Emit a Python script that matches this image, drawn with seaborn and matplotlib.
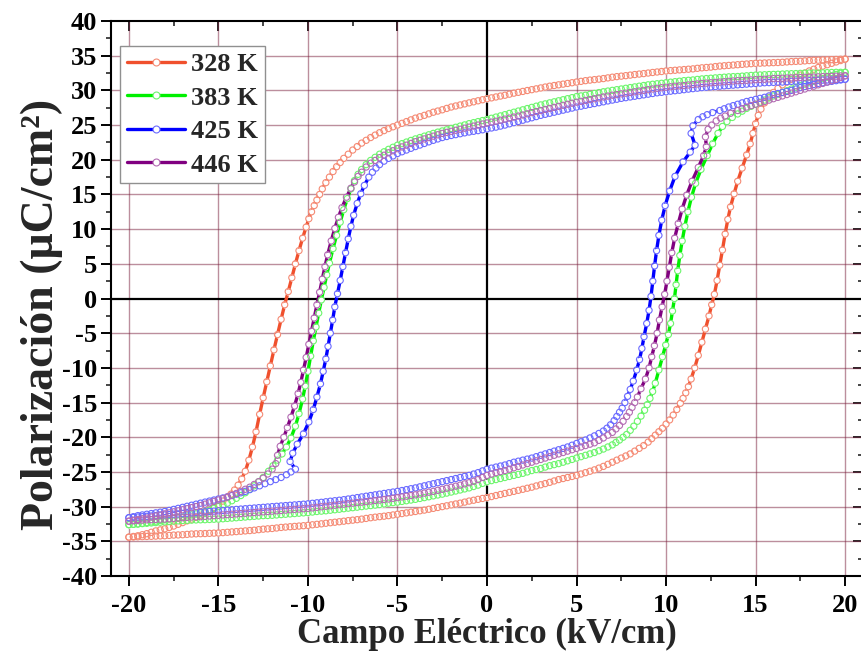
import numpy as np
import pandas as pd
import matplotlib
matplotlib.use("Agg")
import matplotlib.pyplot as plt
from matplotlib.lines import Line2D
from matplotlib.ticker import MultipleLocator
import seaborn as sns

# ---------------- data (E in kV/cm, P in uC/cm^2) ----------------
temps = ["328 K", "383 K", "425 K", "446 K"]
line_colors = ["#F0502D", "#00F000", "#0000FF", "#800080"]
edge_colors = ["#F58A74", "#6CF56C", "#6A6AFF", "#B36BB3"]

up_328 = [(20,34.5),(19.75,34.48),(19.5,34.45),(19.25,34.43),(19,34.4),(18.75,34.38),(18.5,34.35),(18.25,34.33),(18,34.3),(17.75,34.25),(17.5,34.2),(17.25,34.18),(17,34.15),(16.75,34.1),(16.5,34.05),(16.25,34.02),(16,34.0),(15.75,33.97),(15.5,33.95),(15.25,33.92),(15,33.9),(14.75,33.85),(14.5,33.8),(14.25,33.75),(14,33.7),(13.75,33.65),(13.5,33.6),(13.25,33.55),(13,33.5),(12.75,33.43),(12.5,33.35),(12.25,33.3),(12,33.25),(11.75,33.18),(11.5,33.1),(11.25,33.05),(11,33.0),(10.75,32.95),(10.5,32.9),(10.25,32.85),(10,32.8),(9.75,32.72),(9.5,32.65),(9.25,32.58),(9,32.5),(8.75,32.42),(8.5,32.35),(8.25,32.28),(8,32.2),(7.75,32.12),(7.5,32.05),(7.25,31.98),(7,31.9),(6.75,31.8),(6.5,31.7),(6.25,31.62),(6,31.55),(5.75,31.48),(5.5,31.4),(5.25,31.3),(5,31.2),(4.75,31.1),(4.5,31.0),(4.25,30.9),(4,30.8),(3.75,30.7),(3.5,30.6),(3.25,30.48),(3,30.35),(2.75,30.22),(2.5,30.1),(2.25,29.98),(2,29.85),(1.75,29.72),(1.5,29.6),(1.25,29.45),(1,29.3),(0.75,29.18),(0.5,29.05),(0.25,28.92),(0,28.8),(-0.25,28.65),(-0.5,28.5),(-0.75,28.35),(-1,28.2),(-1.25,28.05),(-1.5,27.9),(-1.75,27.75),(-2,27.6),(-2.25,27.4),(-2.5,27.2),(-2.75,27.02),(-3,26.85),(-3.25,26.62),(-3.5,26.4),(-3.75,26.2),(-4,26.0),(-4.25,25.75),(-4.5,25.5),(-4.75,25.25),(-5,25.0),(-5.25,24.75),(-5.5,24.5),(-5.75,24.2),(-6,23.9),(-6.25,23.55),(-6.5,23.2),(-6.75,22.8),(-7,22.4),(-7.25,21.9),(-7.5,21.4),(-7.75,20.8),(-8,20.2),(-8.2,19.6),(-8.4,19.0),(-8.6,18.3),(-8.8,17.5),(-9.0,16.7),(-9.2,15.8),(-9.35,15.0),(-9.5,14.2),(-9.65,13.4),(-9.8,12.5),(-9.95,11.5),(-10.1,10.3),(-10.3,8.7),(-10.5,6.9),(-10.7,5.0),(-10.9,3.0),(-11.1,1.0),(-11.3,-0.9),(-11.5,-3.0),(-11.7,-5.2),(-11.9,-7.4),(-12.1,-9.7),(-12.3,-12.0),(-12.5,-14.3),(-12.7,-16.7),(-12.9,-19.2),(-13.1,-21.4),(-13.3,-23.3),(-13.5,-24.9),(-13.7,-26.0),(-13.9,-26.9),(-14.1,-27.6),(-14.3,-28.2),(-14.5,-28.7),(-14.75,-29.2),(-15,-29.7),(-15.25,-30.1),(-15.5,-30.5),(-15.75,-30.9),(-16,-31.25),(-16.25,-31.55),(-16.5,-31.8),(-16.75,-32.05),(-17,-32.3),(-17.25,-32.55),(-17.5,-32.8),(-17.75,-33.0),(-18,-33.2),(-18.25,-33.35),(-18.5,-33.5),(-18.75,-33.7),(-19,-33.9),(-19.25,-34.05),(-19.5,-34.2),(-19.75,-34.3),(-20,-34.4)]
dn_328 = [(-20,-34.4),(-19.75,-34.38),(-19.5,-34.35),(-19.25,-34.33),(-19,-34.3),(-18.75,-34.28),(-18.5,-34.25),(-18.25,-34.22),(-18,-34.2),(-17.75,-34.15),(-17.5,-34.1),(-17.25,-34.08),(-17,-34.05),(-16.75,-34.0),(-16.5,-33.95),(-16.25,-33.92),(-16,-33.9),(-15.75,-33.88),(-15.5,-33.85),(-15.25,-33.82),(-15,-33.8),(-14.75,-33.75),(-14.5,-33.7),(-14.25,-33.65),(-14,-33.6),(-13.75,-33.55),(-13.5,-33.5),(-13.25,-33.45),(-13,-33.4),(-12.75,-33.32),(-12.5,-33.25),(-12.25,-33.2),(-12,-33.15),(-11.75,-33.08),(-11.5,-33.0),(-11.25,-32.95),(-11,-32.9),(-10.75,-32.85),(-10.5,-32.8),(-10.25,-32.75),(-10,-32.7),(-9.75,-32.62),(-9.5,-32.55),(-9.25,-32.48),(-9,-32.4),(-8.75,-32.32),(-8.5,-32.25),(-8.25,-32.18),(-8,-32.1),(-7.75,-32.02),(-7.5,-31.95),(-7.25,-31.88),(-7,-31.8),(-6.75,-31.7),(-6.5,-31.6),(-6.25,-31.52),(-6,-31.45),(-5.75,-31.38),(-5.5,-31.3),(-5.25,-31.2),(-5,-31.1),(-4.75,-31.0),(-4.5,-30.9),(-4.25,-30.8),(-4,-30.7),(-3.75,-30.6),(-3.5,-30.5),(-3.25,-30.38),(-3,-30.25),(-2.75,-30.12),(-2.5,-30.0),(-2.25,-29.88),(-2,-29.75),(-1.75,-29.62),(-1.5,-29.5),(-1.25,-29.35),(-1,-29.2),(-0.75,-29.08),(-0.5,-28.95),(-0.25,-28.82),(0,-28.7),(0.25,-28.55),(0.5,-28.4),(0.75,-28.25),(1,-28.1),(1.25,-27.95),(1.5,-27.8),(1.75,-27.65),(2,-27.5),(2.25,-27.35),(2.5,-27.2),(2.75,-27.02),(3,-26.85),(3.25,-26.68),(3.5,-26.5),(3.75,-26.3),(4,-26.1),(4.25,-25.95),(4.5,-25.8),(4.75,-25.65),(5,-25.5),(5.25,-25.3),(5.5,-25.1),(5.75,-24.9),(6,-24.7),(6.25,-24.45),(6.5,-24.2),(6.75,-23.9),(7,-23.6),(7.25,-23.3),(7.5,-23.0),(7.75,-22.7),(8,-22.4),(8.25,-22.0),(8.5,-21.6),(8.75,-21.2),(9,-20.7),(9.2,-20.2),(9.4,-19.7),(9.6,-19.2),(9.8,-18.7),(10.0,-18.1),(10.2,-17.5),(10.4,-16.8),(10.6,-16.0),(10.8,-15.1),(10.95,-14.4),(11.1,-13.6),(11.25,-12.7),(11.4,-11.6),(11.6,-10.0),(11.8,-8.2),(12.0,-6.3),(12.2,-4.4),(12.4,-2.5),(12.55,-0.9),(12.7,0.6),(12.85,2.6),(13.0,4.8),(13.15,7.0),(13.3,9.3),(13.45,11.4),(13.6,13.2),(13.8,15.1),(14.0,16.9),(14.25,18.8),(14.5,20.7),(14.7,22.3),(14.85,23.8),(15.0,25.2),(15.15,26.4),(15.3,27.3),(15.5,28.2),(15.75,29.0),(16.0,29.7),(16.25,30.3),(16.5,30.8),(16.75,31.2),(17,31.6),(17.25,31.9),(17.5,32.2),(17.75,32.5),(18,32.8),(18.25,33.05),(18.5,33.3),(18.75,33.5),(19,33.7),(19.25,33.9),(19.5,34.1),(19.75,34.3),(20,34.5)]

up_383 = [(20,32.6),(19.75,32.6),(19.5,32.6),(19.25,32.58),(19,32.55),(18.75,32.52),(18.5,32.5),(18.25,32.5),(18,32.5),(17.75,32.48),(17.5,32.45),(17.25,32.42),(17,32.4),(16.75,32.38),(16.5,32.35),(16.25,32.32),(16,32.3),(15.75,32.28),(15.5,32.25),(15.25,32.22),(15,32.2),(14.75,32.15),(14.5,32.1),(14.25,32.05),(14,32.0),(13.75,31.98),(13.5,31.95),(13.25,31.9),(13,31.85),(12.75,31.8),(12.5,31.75),(12.25,31.7),(12,31.65),(11.75,31.58),(11.5,31.5),(11.25,31.45),(11,31.4),(10.75,31.32),(10.5,31.25),(10.25,31.18),(10,31.1),(9.75,31.02),(9.5,30.95),(9.25,30.88),(9,30.8),(8.75,30.7),(8.5,30.6),(8.25,30.5),(8,30.4),(7.75,30.3),(7.5,30.2),(7.25,30.1),(7,30.0),(6.75,29.9),(6.5,29.8),(6.25,29.68),(6,29.55),(5.75,29.42),(5.5,29.3),(5.25,29.2),(5,29.1),(4.75,28.95),(4.5,28.8),(4.25,28.65),(4,28.5),(3.75,28.35),(3.5,28.2),(3.25,28.05),(3,27.9),(2.75,27.72),(2.5,27.55),(2.25,27.38),(2,27.2),(1.75,27.02),(1.5,26.85),(1.25,26.68),(1,26.5),(0.75,26.32),(0.5,26.15),(0.25,25.98),(0,25.8),(-0.25,25.65),(-0.5,25.5),(-0.75,25.35),(-1,25.2),(-1.25,25.02),(-1.5,24.85),(-1.75,24.68),(-2,24.5),(-2.25,24.32),(-2.5,24.15),(-2.75,23.98),(-3,23.8),(-3.25,23.6),(-3.5,23.4),(-3.75,23.2),(-4,23.0),(-4.25,22.78),(-4.5,22.55),(-4.75,22.32),(-5,22.1),(-5.25,21.8),(-5.5,21.5),(-5.75,21.15),(-6,20.8),(-6.25,20.35),(-6.5,19.9),(-6.75,19.3),(-7.0,18.6),(-7.2,17.9),(-7.4,17.0),(-7.6,15.8),(-7.8,14.4),(-8.0,12.8),(-8.2,11.0),(-8.4,9.1),(-8.6,7.2),(-8.8,5.1),(-8.95,3.4),(-9.1,1.6),(-9.25,-0.2),(-9.4,-2.1),(-9.55,-4.1),(-9.7,-6.1),(-9.85,-8.3),(-10.0,-10.5),(-10.15,-12.6),(-10.3,-14.5),(-10.5,-16.6),(-10.7,-18.4),(-10.95,-20.1),(-11.2,-21.4),(-11.45,-22.4),(-11.7,-23.3),(-11.95,-24.1),(-12.2,-24.9),(-12.5,-25.8),(-12.75,-26.4),(-13,-27.0),(-13.25,-27.5),(-13.5,-28.0),(-13.75,-28.4),(-14,-28.8),(-14.25,-29.15),(-14.5,-29.5),(-14.75,-29.75),(-15,-30.0),(-15.25,-30.25),(-15.5,-30.5),(-15.75,-30.7),(-16,-30.9),(-16.25,-31.05),(-16.5,-31.2),(-16.75,-31.35),(-17,-31.5),(-17.25,-31.6),(-17.5,-31.7),(-17.75,-31.8),(-18,-31.9),(-18.25,-32.0),(-18.5,-32.1),(-18.75,-32.2),(-19,-32.3),(-19.25,-32.4),(-19.5,-32.5),(-19.75,-32.55),(-20,-32.6)]
dn_383 = [(-20,-32.6),(-19.75,-32.55),(-19.5,-32.5),(-19.25,-32.45),(-19,-32.4),(-18.75,-32.35),(-18.5,-32.3),(-18.25,-32.25),(-18,-32.2),(-17.75,-32.15),(-17.5,-32.1),(-17.25,-32.05),(-17,-32.0),(-16.75,-31.98),(-16.5,-31.95),(-16.25,-31.92),(-16,-31.9),(-15.75,-31.88),(-15.5,-31.85),(-15.25,-31.82),(-15,-31.8),(-14.75,-31.75),(-14.5,-31.7),(-14.25,-31.65),(-14,-31.6),(-13.75,-31.55),(-13.5,-31.5),(-13.25,-31.45),(-13,-31.4),(-12.75,-31.35),(-12.5,-31.3),(-12.25,-31.28),(-12,-31.25),(-11.75,-31.2),(-11.5,-31.15),(-11.25,-31.1),(-11,-31.05),(-10.75,-31.0),(-10.5,-30.95),(-10.25,-30.9),(-10,-30.85),(-9.75,-30.78),(-9.5,-30.7),(-9.25,-30.65),(-9,-30.6),(-8.75,-30.52),(-8.5,-30.45),(-8.25,-30.38),(-8,-30.3),(-7.75,-30.22),(-7.5,-30.15),(-7.25,-30.08),(-7,-30.0),(-6.75,-29.92),(-6.5,-29.85),(-6.25,-29.78),(-6,-29.7),(-5.75,-29.6),(-5.5,-29.5),(-5.25,-29.42),(-5,-29.35),(-4.75,-29.25),(-4.5,-29.15),(-4.25,-29.05),(-4,-28.95),(-3.75,-28.82),(-3.5,-28.7),(-3.25,-28.58),(-3,-28.45),(-2.75,-28.32),(-2.5,-28.2),(-2.25,-28.05),(-2,-27.9),(-1.75,-27.75),(-1.5,-27.6),(-1.25,-27.45),(-1,-27.3),(-0.75,-27.1),(-0.5,-26.9),(-0.25,-26.65),(0,-26.4),(0.25,-26.25),(0.5,-26.1),(0.75,-25.95),(1,-25.8),(1.25,-25.65),(1.5,-25.5),(1.75,-25.35),(2,-25.2),(2.25,-25.0),(2.5,-24.8),(2.75,-24.65),(3,-24.5),(3.25,-24.3),(3.5,-24.1),(3.75,-23.95),(4,-23.8),(4.25,-23.6),(4.5,-23.4),(4.75,-23.2),(5,-23.0),(5.25,-22.8),(5.5,-22.6),(5.75,-22.4),(6,-22.2),(6.25,-21.95),(6.5,-21.7),(6.75,-21.4),(7,-21.1),(7.2,-20.75),(7.4,-20.4),(7.6,-20.0),(7.8,-19.6),(8.0,-19.0),(8.2,-18.4),(8.4,-17.7),(8.6,-16.95),(8.8,-16.1),(8.95,-15.3),(9.1,-14.4),(9.25,-13.4),(9.4,-12.2),(9.6,-10.3),(9.8,-8.4),(9.98,-6.7),(10.13,-5.2),(10.25,-3.6),(10.36,-1.8),(10.47,0.0),(10.56,2.0),(10.65,4.0),(10.77,6.2),(10.9,8.3),(11.05,10.4),(11.22,12.5),(11.42,14.6),(11.65,16.6),(11.95,18.6),(12.3,20.6),(12.6,22.3),(12.9,23.8),(13.15,24.8),(13.4,25.5),(13.7,26.1),(14.0,26.6),(14.25,27.0),(14.5,27.4),(14.75,27.7),(15,28.0),(15.25,28.3),(15.5,28.6),(15.75,28.9),(16,29.2),(16.25,29.45),(16.5,29.7),(16.75,29.95),(17,30.2),(17.25,30.45),(17.5,30.7),(17.75,30.9),(18,31.1),(18.25,31.3),(18.5,31.5),(18.75,31.7),(19,31.9),(19.25,32.1),(19.5,32.3),(19.75,32.45),(20,32.6)]

up_425 = [(20,31.6),(19.75,31.58),(19.5,31.55),(19.25,31.52),(19,31.5),(18.75,31.48),(18.5,31.45),(18.25,31.42),(18,31.4),(17.75,31.38),(17.5,31.35),(17.25,31.32),(17,31.3),(16.75,31.25),(16.5,31.2),(16.25,31.18),(16,31.15),(15.75,31.12),(15.5,31.1),(15.25,31.05),(15,31.0),(14.75,30.95),(14.5,30.9),(14.25,30.85),(14,30.8),(13.75,30.75),(13.5,30.7),(13.25,30.65),(13,30.6),(12.75,30.55),(12.5,30.5),(12.25,30.45),(12,30.4),(11.75,30.32),(11.5,30.25),(11.25,30.18),(11,30.1),(10.75,30.02),(10.5,29.95),(10.25,29.88),(10,29.8),(9.75,29.72),(9.5,29.65),(9.25,29.55),(9,29.45),(8.75,29.35),(8.5,29.25),(8.25,29.15),(8,29.05),(7.75,28.95),(7.5,28.85),(7.25,28.72),(7,28.6),(6.75,28.48),(6.5,28.35),(6.25,28.22),(6,28.1),(5.75,27.98),(5.5,27.85),(5.25,27.72),(5,27.6),(4.75,27.45),(4.5,27.3),(4.25,27.15),(4,27.0),(3.75,26.85),(3.5,26.7),(3.25,26.55),(3,26.4),(2.75,26.22),(2.5,26.05),(2.25,25.88),(2,25.7),(1.75,25.52),(1.5,25.35),(1.25,25.18),(1,25.0),(0.75,24.85),(0.5,24.7),(0.25,24.58),(0,24.45),(-0.25,24.32),(-0.5,24.2),(-0.75,24.1),(-1,24.0),(-1.25,23.88),(-1.5,23.75),(-1.75,23.62),(-2,23.5),(-2.25,23.35),(-2.5,23.2),(-2.75,23.0),(-3,22.8),(-3.25,22.58),(-3.5,22.35),(-3.75,22.12),(-4,21.9),(-4.25,21.65),(-4.5,21.4),(-4.75,21.15),(-5,20.9),(-5.25,20.55),(-5.5,20.2),(-5.75,19.8),(-6,19.3),(-6.2,18.8),(-6.4,18.2),(-6.6,17.5),(-6.85,16.3),(-7.05,15.1),(-7.25,13.7),(-7.45,12.0),(-7.6,10.4),(-7.75,8.6),(-7.9,6.6),(-8.05,4.6),(-8.2,2.6),(-8.35,0.7),(-8.5,-1.2),(-8.62,-3.1),(-8.75,-5.0),(-8.88,-6.9),(-9.0,-8.7),(-9.15,-10.5),(-9.3,-12.3),(-9.5,-14.2),(-9.7,-16.0),(-9.95,-17.8),(-10.25,-19.5),(-10.6,-21.0),(-10.85,-22.3),(-11.0,-23.5),(-10.7,-24.6),(-10.95,-25.0),(-11.2,-25.4),(-11.5,-25.8),(-11.8,-26.1),(-12.1,-26.4),(-12.4,-26.7),(-12.7,-27.0),(-13,-27.3),(-13.25,-27.55),(-13.5,-27.8),(-13.75,-28.0),(-14,-28.2),(-14.25,-28.4),(-14.5,-28.6),(-14.75,-28.75),(-15,-28.9),(-15.25,-29.05),(-15.5,-29.2),(-15.75,-29.35),(-16,-29.5),(-16.25,-29.65),(-16.5,-29.8),(-16.75,-29.95),(-17,-30.1),(-17.25,-30.25),(-17.5,-30.4),(-17.75,-30.55),(-18,-30.7),(-18.25,-30.8),(-18.5,-30.9),(-18.75,-31.0),(-19,-31.1),(-19.25,-31.2),(-19.5,-31.3),(-19.75,-31.45),(-20,-31.6)]
dn_425 = [(-20,-31.6),(-19.75,-31.55),(-19.5,-31.5),(-19.25,-31.45),(-19,-31.4),(-18.75,-31.35),(-18.5,-31.3),(-18.25,-31.25),(-18,-31.2),(-17.75,-31.15),(-17.5,-31.1),(-17.25,-31.05),(-17,-31.0),(-16.75,-30.95),(-16.5,-30.9),(-16.25,-30.85),(-16,-30.8),(-15.75,-30.75),(-15.5,-30.7),(-15.25,-30.65),(-15,-30.6),(-14.75,-30.55),(-14.5,-30.5),(-14.25,-30.45),(-14,-30.4),(-13.75,-30.35),(-13.5,-30.3),(-13.25,-30.25),(-13,-30.2),(-12.75,-30.15),(-12.5,-30.1),(-12.25,-30.05),(-12,-30.0),(-11.75,-29.95),(-11.5,-29.9),(-11.25,-29.85),(-11,-29.8),(-10.75,-29.75),(-10.5,-29.7),(-10.25,-29.65),(-10,-29.6),(-9.75,-29.52),(-9.5,-29.45),(-9.25,-29.38),(-9,-29.3),(-8.75,-29.22),(-8.5,-29.15),(-8.25,-29.08),(-8,-29.0),(-7.75,-28.9),(-7.5,-28.8),(-7.25,-28.7),(-7,-28.6),(-6.75,-28.5),(-6.5,-28.4),(-6.25,-28.3),(-6,-28.2),(-5.75,-28.1),(-5.5,-28.0),(-5.25,-27.9),(-5,-27.8),(-4.75,-27.68),(-4.5,-27.55),(-4.25,-27.42),(-4,-27.3),(-3.75,-27.15),(-3.5,-27.0),(-3.25,-26.85),(-3,-26.7),(-2.75,-26.55),(-2.5,-26.4),(-2.25,-26.25),(-2,-26.1),(-1.75,-25.95),(-1.5,-25.8),(-1.25,-25.65),(-1,-25.5),(-0.75,-25.3),(-0.5,-25.1),(-0.25,-24.85),(0,-24.6),(0.25,-24.45),(0.5,-24.3),(0.75,-24.15),(1,-24.0),(1.25,-23.8),(1.5,-23.6),(1.75,-23.45),(2,-23.3),(2.25,-23.15),(2.5,-23.0),(2.75,-22.8),(3,-22.6),(3.25,-22.4),(3.5,-22.2),(3.75,-22.0),(4,-21.8),(4.25,-21.6),(4.5,-21.4),(4.75,-21.15),(5,-20.9),(5.25,-20.65),(5.5,-20.4),(5.75,-20.1),(6,-19.8),(6.25,-19.45),(6.5,-19.1),(6.7,-18.7),(6.9,-18.2),(7.1,-17.6),(7.25,-17.0),(7.4,-16.4),(7.55,-15.8),(7.7,-15.0),(7.85,-14.1),(8.0,-13.1),(8.17,-11.9),(8.36,-10.3),(8.52,-8.8),(8.65,-7.2),(8.77,-5.5),(8.92,-3.6),(9.05,-1.7),(9.16,0.3),(9.26,2.5),(9.36,4.7),(9.47,6.9),(9.6,9.1),(9.76,11.3),(9.95,13.4),(10.2,15.5),(10.5,17.6),(10.95,19.7),(11.35,21.1),(11.62,22.1),(11.4,23.8),(11.5,24.9),(11.8,25.8),(12.05,26.2),(12.3,26.5),(12.6,26.8),(13,27.1),(13.25,27.35),(13.5,27.6),(13.75,27.8),(14,28.0),(14.25,28.2),(14.5,28.4),(14.75,28.55),(15,28.7),(15.25,28.85),(15.5,29.0),(15.75,29.2),(16,29.4),(16.25,29.55),(16.5,29.7),(16.75,29.85),(17,30.0),(17.25,30.2),(17.5,30.4),(17.75,30.55),(18,30.7),(18.25,30.85),(18.5,31.0),(18.75,31.1),(19,31.2),(19.25,31.3),(19.5,31.4),(19.75,31.5),(20,31.6)]

up_446 = [(20,32.1),(19.75,32.08),(19.5,32.05),(19.25,32.02),(19,32.0),(18.75,31.98),(18.5,31.95),(18.25,31.92),(18,31.9),(17.75,31.88),(17.5,31.85),(17.25,31.82),(17,31.8),(16.75,31.78),(16.5,31.75),(16.25,31.72),(16,31.7),(15.75,31.65),(15.5,31.6),(15.25,31.58),(15,31.55),(14.75,31.5),(14.5,31.45),(14.25,31.42),(14,31.4),(13.75,31.35),(13.5,31.3),(13.25,31.25),(13,31.2),(12.75,31.15),(12.5,31.1),(12.25,31.05),(12,31.0),(11.75,30.92),(11.5,30.85),(11.25,30.78),(11,30.7),(10.75,30.65),(10.5,30.6),(10.25,30.52),(10,30.45),(9.75,30.38),(9.5,30.3),(9.25,30.2),(9,30.1),(8.75,30.0),(8.5,29.9),(8.25,29.8),(8,29.7),(7.75,29.6),(7.5,29.5),(7.25,29.4),(7,29.3),(6.75,29.18),(6.5,29.05),(6.25,28.92),(6,28.8),(5.75,28.68),(5.5,28.55),(5.25,28.42),(5,28.3),(4.75,28.15),(4.5,28.0),(4.25,27.85),(4,27.7),(3.75,27.55),(3.5,27.4),(3.25,27.25),(3,27.1),(2.75,26.95),(2.5,26.8),(2.25,26.62),(2,26.45),(1.75,26.3),(1.5,26.15),(1.25,26.0),(1,25.85),(0.75,25.7),(0.5,25.55),(0.25,25.42),(0,25.3),(-0.25,25.15),(-0.5,25.0),(-0.75,24.85),(-1,24.7),(-1.25,24.55),(-1.5,24.4),(-1.75,24.25),(-2,24.1),(-2.25,23.95),(-2.5,23.8),(-2.75,23.6),(-3,23.4),(-3.25,23.2),(-3.5,23.0),(-3.75,22.8),(-4,22.6),(-4.25,22.35),(-4.5,22.1),(-4.75,21.85),(-5,21.6),(-5.25,21.3),(-5.5,21.0),(-5.75,20.65),(-6,20.3),(-6.25,19.9),(-6.5,19.5),(-6.75,18.95),(-7.0,18.2),(-7.2,17.6),(-7.4,16.8),(-7.6,15.9),(-7.85,14.6),(-8.1,13.1),(-8.3,11.7),(-8.5,10.1),(-8.7,8.3),(-8.9,6.3),(-9.05,4.6),(-9.2,2.8),(-9.35,0.9),(-9.5,-0.9),(-9.65,-2.8),(-9.8,-4.7),(-9.95,-6.6),(-10.1,-8.5),(-10.25,-10.3),(-10.4,-12.1),(-10.55,-13.7),(-10.75,-15.5),(-10.95,-17.1),(-11.15,-18.6),(-11.35,-20.0),(-11.55,-21.3),(-11.7,-22.6),(-11.8,-23.8),(-12.0,-24.6),(-12.25,-25.3),(-12.5,-25.9),(-12.75,-26.4),(-13,-26.8),(-13.25,-27.2),(-13.5,-27.5),(-13.75,-27.8),(-14,-28.1),(-14.25,-28.35),(-14.5,-28.6),(-14.75,-28.85),(-15,-29.05),(-15.25,-29.25),(-15.5,-29.45),(-15.75,-29.65),(-16,-29.85),(-16.25,-30.0),(-16.5,-30.15),(-16.75,-30.3),(-17,-30.45),(-17.25,-30.6),(-17.5,-30.75),(-17.75,-30.9),(-18,-31.05),(-18.25,-31.2),(-18.5,-31.35),(-18.75,-31.5),(-19,-31.65),(-19.25,-31.75),(-19.5,-31.85),(-19.75,-31.95),(-20,-32.1)]
dn_446 = [(-20,-32.1),(-19.75,-32.05),(-19.5,-32.0),(-19.25,-31.95),(-19,-31.9),(-18.75,-31.88),(-18.5,-31.85),(-18.25,-31.82),(-18,-31.8),(-17.75,-31.75),(-17.5,-31.7),(-17.25,-31.65),(-17,-31.6),(-16.75,-31.55),(-16.5,-31.5),(-16.25,-31.48),(-16,-31.45),(-15.75,-31.4),(-15.5,-31.35),(-15.25,-31.3),(-15,-31.25),(-14.75,-31.2),(-14.5,-31.15),(-14.25,-31.1),(-14,-31.05),(-13.75,-31.0),(-13.5,-30.95),(-13.25,-30.9),(-13,-30.85),(-12.75,-30.8),(-12.5,-30.75),(-12.25,-30.7),(-12,-30.65),(-11.75,-30.6),(-11.5,-30.55),(-11.25,-30.5),(-11,-30.45),(-10.75,-30.4),(-10.5,-30.35),(-10.25,-30.3),(-10,-30.25),(-9.75,-30.18),(-9.5,-30.1),(-9.25,-30.02),(-9,-29.95),(-8.75,-29.88),(-8.5,-29.8),(-8.25,-29.72),(-8,-29.65),(-7.75,-29.58),(-7.5,-29.5),(-7.25,-29.42),(-7,-29.35),(-6.75,-29.28),(-6.5,-29.2),(-6.25,-29.12),(-6,-29.05),(-5.75,-28.98),(-5.5,-28.9),(-5.25,-28.8),(-5,-28.7),(-4.75,-28.6),(-4.5,-28.5),(-4.25,-28.4),(-4,-28.3),(-3.75,-28.18),(-3.5,-28.05),(-3.25,-27.92),(-3,-27.8),(-2.75,-27.65),(-2.5,-27.5),(-2.25,-27.35),(-2,-27.2),(-1.75,-27.05),(-1.5,-26.9),(-1.25,-26.72),(-1,-26.55),(-0.75,-26.35),(-0.5,-26.1),(-0.25,-25.8),(0,-25.5),(0.25,-25.3),(0.5,-25.1),(0.75,-24.95),(1,-24.8),(1.25,-24.6),(1.5,-24.4),(1.75,-24.2),(2,-24.0),(2.25,-23.8),(2.5,-23.6),(2.75,-23.4),(3,-23.2),(3.25,-23.0),(3.5,-22.8),(3.75,-22.6),(4,-22.4),(4.25,-22.2),(4.5,-22.0),(4.75,-21.8),(5,-21.6),(5.25,-21.4),(5.5,-21.2),(5.75,-21.0),(6,-20.8),(6.25,-20.45),(6.5,-20.1),(6.75,-19.7),(7,-19.3),(7.2,-18.8),(7.4,-18.3),(7.6,-17.7),(7.8,-17.0),(7.95,-16.4),(8.1,-15.7),(8.25,-15.0),(8.4,-14.2),(8.6,-13.0),(8.85,-11.6),(9.05,-10.0),(9.2,-8.4),(9.35,-6.8),(9.5,-5.0),(9.63,-3.1),(9.78,-1.2),(9.92,0.6),(10.05,2.5),(10.18,4.5),(10.32,6.6),(10.48,8.7),(10.68,10.8),(10.9,12.9),(11.15,14.9),(11.45,16.9),(11.8,18.9),(12.1,20.6),(12.25,21.9),(12.2,23.3),(12.35,24.4),(12.55,25.0),(12.8,25.6),(13.05,26.0),(13.3,26.3),(13.6,26.7),(14,27.1),(14.25,27.35),(14.5,27.6),(14.75,27.8),(15,28.0),(15.25,28.2),(15.5,28.4),(15.75,28.6),(16,28.8),(16.25,29.0),(16.5,29.2),(16.75,29.4),(17,29.6),(17.25,29.8),(17.5,30.0),(17.75,30.2),(18,30.4),(18.25,30.6),(18.5,30.8),(18.75,31.0),(19,31.2),(19.25,31.4),(19.5,31.6),(19.75,31.85),(20,32.1)]

x_ticks = [-20, -15, -10, -5, 0, 5, 10, 15, 20]
y_ticks = [-40, -35, -30, -25, -20, -15, -10, -5, 0, 5, 10, 15, 20, 25, 30, 35, 40]
x_label = "Campo Eléctrico (kV/cm)"
y_label = "Polarización (μC/cm²)"

branches = {"328 K": (up_328, dn_328), "383 K": (up_383, dn_383),
            "425 K": (up_425, dn_425), "446 K": (up_446, dn_446)}

rows = []
for t in temps:
    for bname, pts in zip(("up", "down"), branches[t]):
        for i, (e, p) in enumerate(pts):
            rows.append({"T": t, "branch": bname, "order": i, "E": e, "P": p})
df = pd.DataFrame(rows)

# ---------------- style ----------------
sns.set_theme(style="white")
plt.rcParams["font.family"] = ["Liberation Serif", "DejaVu Serif"]
plt.rcParams["font.weight"] = "bold"
plt.rcParams["axes.unicode_minus"] = False

fig = plt.figure(figsize=(8.61, 6.57), dpi=100)
ax = fig.add_axes([111/861, 1-576/657, (863-111)/861, (576-21)/657])
ax.set_xlim(-21, 21)
ax.set_ylim(-40, 40)

# grid
for xv in x_ticks:
    if xv != 0:
        ax.axvline(xv, color="#7a1f3d", alpha=0.5, lw=1.0, zorder=0.5)
for yv in y_ticks:
    if yv not in (0, -40, 40):
        ax.axhline(yv, color="#7a1f3d", alpha=0.5, lw=1.0, zorder=0.5)
ax.axhline(0, color="black", lw=1.6, zorder=0.8)
ax.axvline(0, color="black", lw=1.6, zorder=0.8)

MS = 20  # marker area (pt^2)

# connecting lines
for t, lc in zip(temps, line_colors):
    for b in ("up", "down"):
        sub = df[(df["T"] == t) & (df["branch"] == b)].sort_values("order")
        sns.lineplot(data=sub, x="E", y="P", sort=False, estimator=None,
                     color=lc, lw=2.4, ax=ax, zorder=2, legend=False)

# symbol knock-outs (gap to symbol)
for t in temps:
    sub = df[df["T"] == t]
    sns.scatterplot(data=sub, x="E", y="P", color="white", s=MS, linewidth=0,
                    ax=ax, zorder=3, legend=False)

# hollow symbols
for t, ec in zip(temps, edge_colors):
    sub = df[df["T"] == t]
    sns.scatterplot(data=sub, x="E", y="P", facecolors="none", edgecolor=ec,
                    s=MS, linewidth=0.8, ax=ax, zorder=4, legend=False)

# ticks
ax.set_xticks(x_ticks)
ax.set_yticks(y_ticks)
ax.xaxis.set_minor_locator(MultipleLocator(2.5))
ax.yaxis.set_minor_locator(MultipleLocator(2.5))
ax.tick_params(which="major", direction="out", length=7, width=1.4,
               bottom=True, left=True, top=False, right=False,
               labelsize=19, colors="black")
ax.tick_params(axis="x", which="major", pad=6)
ax.tick_params(axis="y", which="major", pad=3)
ax.tick_params(which="minor", direction="out", length=3.5, width=1.2,
               bottom=True, left=True, top=False, right=False)
for lab in ax.get_xticklabels() + ax.get_yticklabels():
    lab.set_fontweight("bold")

sx = ax.secondary_xaxis("top")
sx.set_xticks(x_ticks)
sx.xaxis.set_minor_locator(MultipleLocator(2.5))
sx.tick_params(which="major", direction="in", length=7, width=1.4, labeltop=False)
sx.tick_params(which="minor", direction="in", length=3.5, width=1.2)
sy = ax.secondary_yaxis("right")
sy.set_yticks(y_ticks)
sy.yaxis.set_minor_locator(MultipleLocator(2.5))
sy.tick_params(which="major", direction="in", length=7, width=1.4, labelright=False)
sy.tick_params(which="minor", direction="in", length=3.5, width=1.2)

for sp in ax.spines.values():
    sp.set_color("black")
    sp.set_linewidth(1.5)

ax.set_xlabel(x_label, fontsize=25, fontweight="bold")
ax.xaxis.set_label_coords(0.5, -0.075)
ax.set_ylabel(y_label, fontsize=33, fontweight="bold")
ax.yaxis.set_label_coords(-0.064, 0.472)

handles = [Line2D([0], [0], color=lc, lw=2.4, marker="o", markersize=5,
                  markerfacecolor="white", markeredgecolor=ec, markeredgewidth=0.8)
           for lc, ec in zip(line_colors, edge_colors)]
leg = ax.legend(handles, temps, loc="upper left", bbox_to_anchor=(0.012, 0.955),
                borderaxespad=0, frameon=True, fancybox=False, framealpha=1,
                edgecolor="#909090",
                prop={"family": "Liberation Serif", "weight": "bold", "size": 19},
                handlelength=2.2, handletextpad=0.25, labelspacing=0.38, borderpad=0.25)
leg.get_frame().set_linewidth(1.0)

fig.savefig("out.png", dpi=100)
